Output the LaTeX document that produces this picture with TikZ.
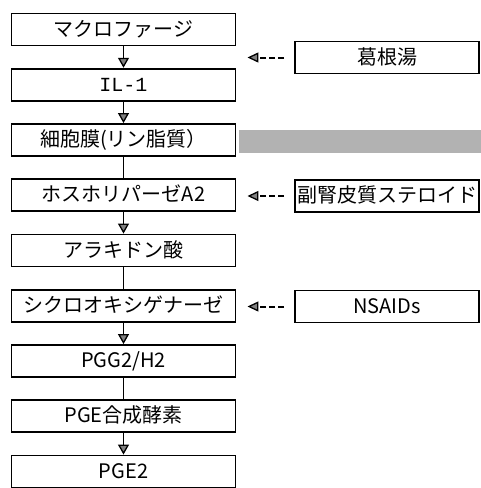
\documentclass[tikz,border=0pt]{standalone}
\usepackage{fontspec}
\setmainfont{Noto Sans CJK JP}
\newfontfamily\ilfont{Liberation Mono}
\usetikzlibrary{arrows.meta}
\begin{document}
\begin{tikzpicture}[x=1pt,y=-1pt,
  box/.style={draw=black, line width=1.9pt, fill=white, minimum width=224pt, minimum height=32pt, inner sep=0pt,
    font=\fontsize{20}{20}\selectfont, text height=16pt, text depth=3pt},
  rbox/.style={box, minimum width=184pt},
  flow/.style={line width=1.9pt, -{Triangle[width=11pt,length=10pt,fill=black!50,line width=1.3pt]}},
  link/.style={line width=1.9pt},
  inhib/.style={line width=2pt, dash pattern=on 6pt off 3pt,
    -{Triangle[width=10pt,length=11pt,fill=black!50,line width=1.3pt]}, shorten <=10pt, shorten >=11pt},
  band/.style={fill=black!30, draw=none, inner sep=0pt, minimum width=242pt, minimum height=23pt}]
\useasboundingbox (0,0) rectangle (481,488);
% left column
\node[box] (b1) at (123.5,29.5) {マクロファージ};
\node[box] (b2) at (123.5,84.7) {\ilfont IL-1};
\node[box] (b3) at (123.5,140) {細胞膜(リン脂質）};
\node[box] (b4) at (123.5,195.2) {ホスホリパーゼA2};
\node[box] (b5) at (123.5,250.5) {アラキドン酸};
\node[box] (b6) at (123.5,305.7) {シクロオキシゲナーゼ};
\node[box] (b7) at (123.5,361) {PGG2/H2};
\node[box] (b8) at (123.5,416.2) {PGE合成酵素};
\node[box] (b9) at (123.5,471.5) {PGE2};
% membrane band
\node[band] (mem) at (360,141.5) {};
% right column
\node[rbox] (r1) at (387,57.5) {葛根湯};
\node[rbox] (r2) at (387,196) {副腎皮質ステロイド};
\node[rbox] (r3) at (387,306.5) {NSAIDs};
% flow connectors
\draw[flow] (b1) -- (b2);
\draw[flow] (b2) -- (b3);
\draw[link] (b3) -- (b4);
\draw[flow] (b4) -- (b5);
\draw[link] (b5) -- (b6);
\draw[flow] (b6) -- (b7);
\draw[link] (b7) -- (b8);
\draw[flow] (b8) -- (b9);
% inhibitions
\coordinate (t1) at (r1.west -| b1.east);
\draw[inhib] (r1.west) -- (t1);
\draw[inhib] (r2.west) -- (r2.west -| b4.east);
\draw[inhib] (r3.west) -- (r3.west -| b6.east);
\end{tikzpicture}
\end{document}
